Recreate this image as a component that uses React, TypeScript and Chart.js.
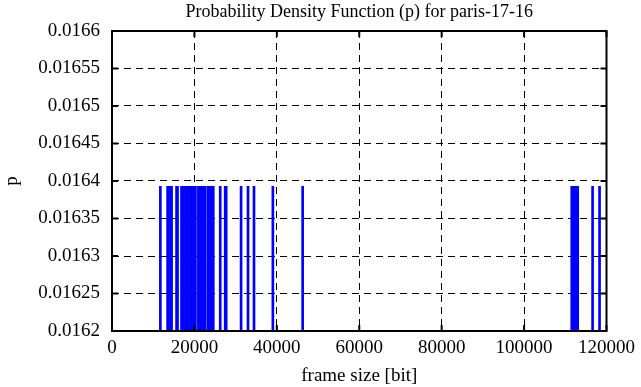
import React, { useEffect, useRef } from "react";
import { Chart, registerables } from "chart.js";

Chart.register(...registerables);

// Frame sizes [bit] that appear in the trace
const frameSizes = [
  11735, 13494, 13976, 14458, 15663, 15904, 16867, 17349, 17831, 18313,
  18795, 19277, 19759, 20241, 20964, 21446, 21928, 22410, 22651, 23373,
  23855, 24337, 24578, 26265, 27470, 27711, 31325, 33012, 34458, 39036,
  46265, 111566, 112048, 112530, 113012, 116627, 118313,
];

// Probability density value of each frame size
const probabilities = [
  0.016393, 0.016393, 0.016393, 0.016393, 0.016393, 0.016393, 0.016393, 0.016393, 0.016393, 0.016393,
  0.016393, 0.016393, 0.016393, 0.016393, 0.016393, 0.016393, 0.016393, 0.016393, 0.016393, 0.016393,
  0.016393, 0.016393, 0.016393, 0.016393, 0.016393, 0.016393, 0.016393, 0.016393, 0.016393, 0.016393,
  0.016393, 0.016393, 0.016393, 0.016393, 0.016393, 0.016393, 0.016393,
];

const xTickValues = [0, 20000, 40000, 60000, 80000, 100000, 120000];
const xTickLabels = ["0", "20000", "40000", "60000", "80000", "100000", "120000"];
const yTickValues = [0.0162, 0.01625, 0.0163, 0.01635, 0.0164, 0.01645, 0.0165, 0.01655, 0.0166];
const yTickLabels = ["0.0162", "0.01625", "0.0163", "0.01635", "0.0164", "0.01645", "0.0165", "0.01655", "0.0166"];

const titleText = "Probability Density Function (p) for paris-17-16";
const xTitle = "frame size [bit]";
const yTitle = "p";

const FONT = "'Liberation Serif', 'Times New Roman', serif";

const frameTicksPlugin = {
  id: "frameTicks",
  afterDatasetsDraw(chart: any) {
    const { ctx, chartArea: a, scales } = chart;
    const len = 6;
    ctx.save();
    ctx.setLineDash([]);
    ctx.strokeStyle = "#000";
    ctx.lineWidth = 2;
    const line = (x1: number, y1: number, x2: number, y2: number) => {
      ctx.beginPath();
      ctx.moveTo(x1, y1);
      ctx.lineTo(x2, y2);
      ctx.stroke();
    };
    scales.x.ticks.forEach((t: any) => {
      const px = scales.x.getPixelForValue(t.value);
      line(px, a.bottom, px, a.bottom - len);
      line(px, a.top, px, a.top + len);
    });
    scales.y.ticks.forEach((t: any) => {
      const py = scales.y.getPixelForValue(t.value);
      line(a.left, py, a.left + len, py);
      line(a.right, py, a.right - len, py);
    });
    ctx.strokeRect(a.left, a.top, a.right - a.left, a.bottom - a.top);
    ctx.restore();
  },
};

export default function App() {
  const canvasRef = useRef<HTMLCanvasElement | null>(null);

  useEffect(() => {
    if (!canvasRef.current) return;
    const chart = new Chart(canvasRef.current, {
      type: "bar",
      data: {
        datasets: [
          {
            data: frameSizes.map((x, i) => ({ x, y: probabilities[i] })),
            backgroundColor: "#0000ff",
            borderWidth: 0,
            barThickness: 2,
          } as any,
        ],
      },
      options: {
        animation: false,
        responsive: false,
        devicePixelRatio: 1,
        layout: { padding: { top: 0, right: 31, bottom: 0, left: 0 } },
        plugins: {
          legend: { display: false },
          tooltip: { enabled: false },
          title: {
            display: true,
            fullSize: false,
            text: titleText,
            color: "#000",
            font: { family: FONT, size: 18, weight: "normal" },
            padding: { top: 1, bottom: 8.4 },
          },
        },
        scales: {
          x: {
            type: "linear",
            min: 0,
            max: 120000,
            offset: false,
            afterBuildTicks: (scale: any) => {
              scale.ticks = xTickValues.map((v) => ({ value: v }));
            },
            afterFit: (scale: any) => {
              scale.height = 56;
            },
            ticks: {
              color: "#000",
              font: { family: FONT, size: 19 },
              padding: 6,
              maxRotation: 0,
              callback: (_v: any, i: number) => xTickLabels[i],
            },
            grid: { color: "#000", lineWidth: 1, drawTicks: false, offset: false },
            border: { display: false, dash: [7, 5] },
            title: {
              display: true,
              text: xTitle,
              color: "#000",
              font: { family: FONT, size: 19 },
              padding: { top: 0, bottom: 0 },
            },
          },
          y: {
            type: "linear",
            min: 0.0162,
            max: 0.0166,
            afterBuildTicks: (scale: any) => {
              scale.ticks = yTickValues.map((v) => ({ value: v }));
            },
            afterFit: (scale: any) => {
              scale.width = 112;
            },
            ticks: {
              color: "#000",
              font: { family: FONT, size: 19 },
              padding: 12,
              callback: (_v: any, i: number) => yTickLabels[i],
            },
            grid: { color: "#000", lineWidth: 1, drawTicks: false },
            border: { display: false, dash: [7, 5] },
            title: {
              display: true,
              text: yTitle,
              color: "#000",
              font: { family: FONT, size: 19 },
              padding: { top: 1, bottom: 0 },
            },
          },
        },
      } as any,
      plugins: [frameTicksPlugin],
    });
    return () => chart.destroy();
  }, []);

  return (
    <div style={{ position: "absolute", left: 0, top: 0, width: 641, height: 387, background: "#fff" }}>
      <canvas ref={canvasRef} width={641} height={387} />
    </div>
  );
}
